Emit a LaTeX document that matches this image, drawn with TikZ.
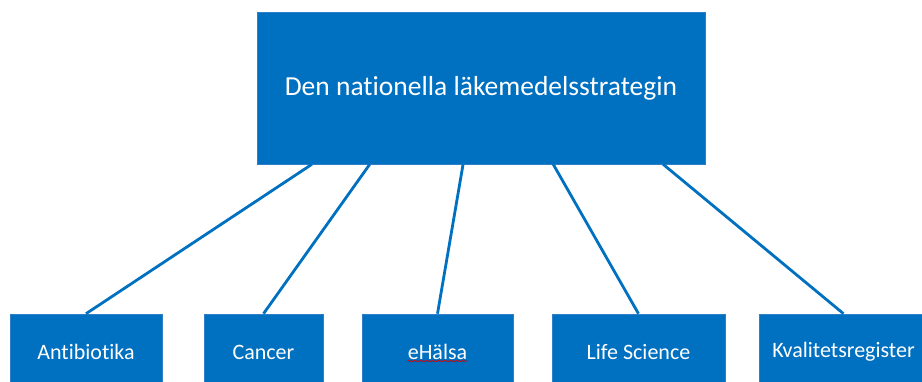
\documentclass[tikz,border=0pt]{standalone}
\usepackage{fontspec}
\setmainfont{Carlito}[Ligatures=CommonOff]
\usetikzlibrary{calc,decorations.pathmorphing}
\definecolor{boxblue}{HTML}{0070C0}
\definecolor{edgeblue}{HTML}{2F7FC8}
\tikzset{
  topbox/.style={fill=boxblue, draw=edgeblue, line width=0.6pt, text=white, font=\fontsize{27.5}{32}\selectfont, minimum width=448pt, minimum height=152pt, inner sep=0pt},
  leafbox/.style={fill=boxblue, draw=edgeblue, line width=0.6pt, text=white, font=\fontsize{22}{26}\selectfont, minimum height=76pt, inner sep=0pt},
  link/.style={draw=boxblue, line width=2.8pt}
}
\begin{document}
\begin{tikzpicture}[x=1pt,y=-1pt]
\useasboundingbox (0,0) rectangle (922,381);
\clip (0,0) rectangle (922,381);
\node[topbox] (top) at (481,88) {Den nationella läkemedelsstrategin};
\node[leafbox, minimum width=152pt] (b1) at (86,352) {Antibiotika};
\node[leafbox, minimum width=119pt] (b2) at (263.5,352) {Cancer};
\node[leafbox, minimum width=151pt] (b3) at (437.5,352) {eHälsa};
\node[leafbox, minimum width=173pt] (b4) at (638.5,352) {Life Science};
\node[leafbox, minimum width=169pt] (b5) at (843.5,352) {Kvalitetsregister};
\coordinate (s1) at ($(top.south west)!0.123!(top.south east)$);
\coordinate (s2) at ($(top.south west)!0.252!(top.south east)$);
\coordinate (s3) at ($(top.south west)!0.460!(top.south east)$);
\coordinate (s4) at ($(top.south west)!0.661!(top.south east)$);
\coordinate (s5) at ($(top.south west)!0.906!(top.south east)$);
\draw[link] (s1) -- (b1.north);
\draw[link] (s2) -- (b2.north);
\draw[link] (s3) -- (b3.north);
\draw[link] (s4) -- (b4.north);
\draw[link] (s5) -- (b5.north);
\coordinate (w1) at ($(b3.center)+(-30,9)$);
\coordinate (w2) at ($(b3.center)+(30,9)$);
\draw[red!80!black, line width=0.6pt, decorate, decoration={snake, amplitude=0.8pt, segment length=3pt}] (w1) -- (w2);
\end{tikzpicture}
\end{document}
